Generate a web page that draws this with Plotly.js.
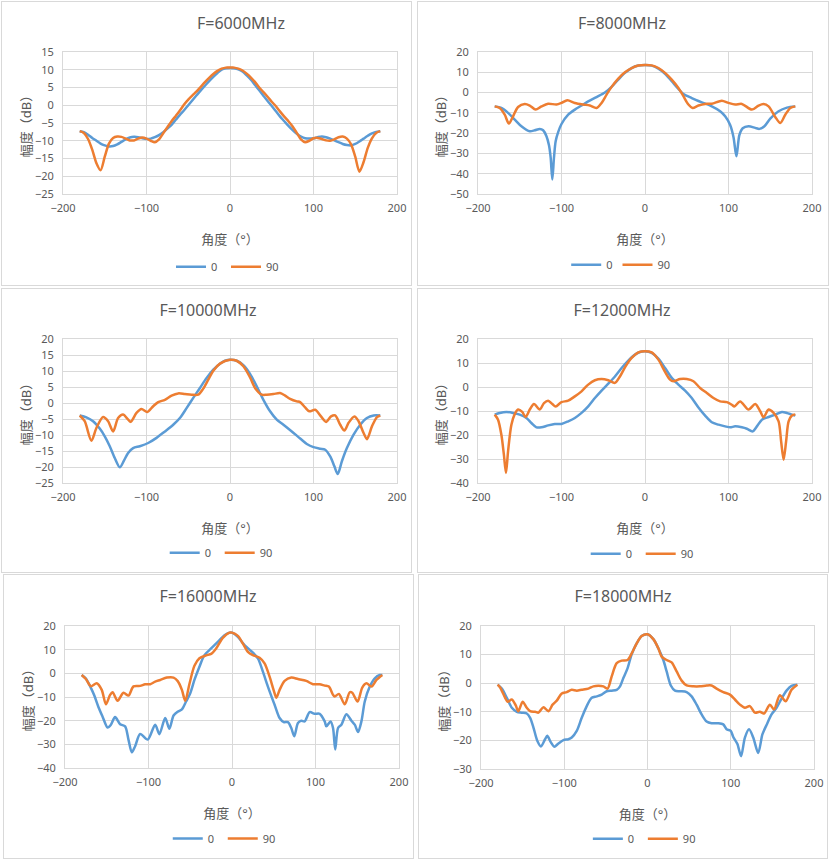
<!DOCTYPE html>
<html>
<head>
<meta charset="utf-8">
<script src="https://cdn.plot.ly/plotly-3.0.1.min.js"></script>
<style>
html,body{margin:0;padding:0;background:#ffffff;}
body{width:831px;height:860px;position:relative;overflow:hidden;}
.chart{position:absolute;}
.frame{position:absolute;border:1px solid #d9d9d9;box-sizing:border-box;pointer-events:none;z-index:5;}
</style>
</head>
<body>
<script>
// ---------- data (angle in degrees, amplitude in dB) ----------
const seriesNames = ['0', '90'];

// F=6000MHz
const ang6_0 = [-180,-175,-170,-165,-160,-155,-150,-145,-140,-135,-130,-125,-120,-115,-110,-105,-100,-95,-90,-85,-80,-75,-70,-65,-60,-55,-50,-45,-40,-35,-30,-25,-20,-15,-10,-5,0,5,10,15,20,25,30,35,40,45,50,55,60,65,70,75,80,85,90,95,100,105,110,115,120,125,130,135,140,145,150,155,160,165,170,175,180];
const db6_0 = [-7.3,-7.6,-8.3,-9.2,-10.0,-10.8,-11.3,-11.6,-11.5,-11.0,-10.3,-9.6,-9.1,-8.9,-9.0,-9.3,-9.5,-9.4,-9.0,-8.4,-7.6,-6.6,-5.5,-4.1,-2.7,-1.4,0.0,1.4,2.8,4.2,5.5,6.8,8.0,9.1,10.0,10.4,10.5,10.4,10.1,9.5,8.4,7.2,5.7,4.2,2.7,1.2,-0.2,-1.7,-3.2,-4.5,-5.8,-7.0,-8.0,-8.8,-9.3,-9.4,-9.3,-9.0,-8.8,-9.0,-9.4,-9.9,-10.4,-10.9,-11.2,-11.3,-10.9,-10.2,-9.4,-8.6,-7.9,-7.5,-7.3];
const ang6_90 = ang6_0;
const db6_90 = [-7.3,-7.8,-9.5,-12.5,-16.3,-18.3,-14.5,-10.8,-9.2,-8.8,-8.9,-9.4,-9.9,-9.9,-9.4,-9.1,-9.4,-10.0,-10.4,-9.6,-7.9,-6.2,-4.5,-3.0,-1.5,0.2,1.6,2.8,3.9,5.2,6.5,7.7,8.8,9.7,10.3,10.6,10.6,10.6,10.3,9.8,8.9,7.8,6.5,5.0,3.7,2.4,1.0,-0.3,-1.8,-3.2,-4.5,-6.0,-7.8,-9.6,-10.4,-10.0,-9.3,-9.2,-9.5,-9.9,-10.0,-9.6,-9.0,-8.8,-9.4,-11.0,-14.5,-18.7,-16.0,-12.0,-9.3,-7.8,-7.3];

// F=8000MHz
const ang8_0 = [-180,-172,-164,-156,-148,-138,-132,-126,-122,-118,-115,-113,-111,-109,-107,-104,-100,-92,-84,-76,-68,-58,-48,-40,-32,-24,-16,-8,0,8,16,24,32,40,46,56,68,80,90,96,102,106,109.5,113,117,124,132,137,143,150,160,170,180];
const db8_0 = [-6.8,-7.6,-10.0,-13.3,-16.6,-19.1,-18.6,-17.9,-18.6,-21.5,-26.0,-32.0,-42.9,-32.0,-24.0,-19.5,-15.5,-10.9,-8.4,-6.4,-4.3,-2.2,0.0,2.8,6.4,9.7,12.1,13.3,13.6,13.3,11.8,9.3,5.6,1.8,-0.7,-2.7,-4.8,-6.8,-9.2,-11.7,-16.0,-22.0,-31.4,-21.0,-17.6,-16.6,-17.4,-17.9,-16.6,-12.8,-9.2,-7.4,-6.8];
const ang8_90 = [-180,-174,-168,-163,-158,-152,-144,-138,-131,-124,-116,-106,-100,-93,-84,-74,-66,-58,-52,-46,-40,-32,-24,-16,-8,0,8,16,24,32,40,46,52,57,64,72,80,92,100,108,116,128,136,142,148,156,162,168,174,180];
const db8_90 = [-6.8,-7.6,-10.9,-15.3,-11.7,-7.1,-5.6,-6.4,-8.4,-6.8,-5.5,-5.9,-5.1,-3.8,-5.1,-5.9,-6.4,-7.6,-5.1,-1.0,2.8,6.9,10.0,12.1,13.3,13.6,13.4,12.1,9.7,6.4,2.3,-1.8,-5.9,-7.6,-6.4,-5.6,-5.5,-4.0,-5.1,-5.9,-5.6,-8.4,-6.4,-5.6,-6.8,-12.0,-15.0,-10.9,-7.6,-6.8];

// F=10000MHz
const ang10_0 = [-180,-172,-164,-156,-150,-144,-138,-132,-127,-122,-116,-108,-98,-88,-78,-68,-60,-52,-44,-36,-28,-20,-12,-6,0,8,16,24,32,40,48,56,64,74,84,92,100,108,114,120,125,129,134,140,148,156,164,172,180];
const db10_0 = [-3.9,-4.5,-5.7,-8.0,-10.4,-13.5,-17.2,-20.1,-18.0,-15.6,-14.1,-13.5,-12.5,-10.9,-8.9,-6.8,-4.7,-1.6,1.6,4.7,7.8,10.4,12.3,13.2,13.5,13.2,11.8,9.1,5.2,1.0,-2.6,-5.2,-6.8,-8.9,-11.1,-12.8,-13.8,-14.3,-14.6,-16.7,-19.8,-22.2,-18.2,-14.1,-9.9,-6.8,-4.7,-3.9,-3.9];
const ang10_90 = [-180,-174,-166,-160,-152,-146,-140,-134,-128,-123,-119,-112,-106,-99,-92,-86,-78,-70,-62,-54,-46,-38,-32,-26,-20,-12,0,8,16,24,30,38,44,52,60,66,72,80,84,90,95,102,109,115,121,126,132,137,142,149,154,160,164,170,176,180];
const db10_90 = [-3.9,-5.7,-11.8,-7.8,-4.4,-5.7,-8.9,-4.7,-3.6,-4.9,-5.9,-3.1,-1.9,-2.8,-1.0,0.3,1.0,2.3,3.0,2.8,2.6,2.6,4.5,7.3,10.1,12.3,13.5,13.2,11.5,8.0,4.7,2.6,2.6,2.8,3.1,2.3,1.3,0.5,0.3,-1.4,-2.6,-2.1,-4.2,-5.9,-4.2,-3.9,-6.8,-8.6,-6.2,-4.2,-5.7,-9.4,-11.3,-7.3,-4.4,-3.9];

// F=12000MHz
const ang12_0 = [-180,-174,-166,-158,-150,-142,-136,-130,-124,-116,-108,-100,-92,-84,-76,-68,-60,-52,-44,-36,-28,-20,-12,-6,0,8,16,24,32,40,48,56,64,72,80,88,96,102,108,116,122,129,134,140,148,156,164,170,176,180];
const db12_0 = [-11.5,-10.8,-10.4,-10.8,-11.5,-12.9,-15.0,-16.8,-16.8,-16.0,-15.4,-15.4,-14.3,-12.9,-10.8,-8.1,-4.6,-1.5,1.4,4.4,7.9,11.0,13.5,14.6,14.9,14.2,11.8,7.9,3.8,1.0,-1.5,-4.6,-8.5,-11.9,-14.7,-15.7,-16.4,-16.8,-16.4,-16.8,-17.4,-18.5,-16.4,-13.6,-12.5,-11.5,-10.4,-10.8,-11.5,-11.9];
const ang12_90 = [-180,-176,-172,-169,-166.5,-164,-160,-156,-152,-147,-143,-138,-133,-126,-121,-116,-111,-107,-100,-92,-84,-76,-68,-60,-52,-44,-36,-30,-24,-16,-8,0,8,16,24,30,34,42,50,58,66,74,82,90,98,104,107,114,124,132,138,142,148,154,160,163,166,169,172,176,180];
const db12_90 = [-11.5,-13.6,-19.9,-28.2,-35.8,-26.8,-15.7,-11.3,-9.4,-10.4,-12.5,-9.4,-7.1,-9.4,-6.7,-5.7,-7.1,-8.1,-6.3,-5.7,-3.9,-1.8,1.0,2.8,3.3,2.8,1.7,4.4,8.2,12.1,14.4,14.9,14.4,11.4,6.3,3.1,2.4,3.3,3.3,2.4,-0.4,-2.5,-4.6,-6.0,-6.3,-7.4,-8.1,-6.0,-9.4,-7.1,-10.1,-12.6,-9.4,-10.8,-14.3,-22.6,-30.3,-22.6,-14.3,-11.9,-11.5];

// F=16000MHz
const ang16_0 = [-180,-175,-170,-165,-160,-155,-149,-145,-140,-134,-128,-124,-120,-116,-110,-101,-92,-87,-80,-75,-70,-65,-60,-55,-50,-45,-39,-33,-25,-17,-9,-3,0,7,15,23,31,37,43,51,57,62,67,71,74.5,79,83,87,93,99,105,111,113,118,121,123.6,127,131,137,143,147,151,155,159,165,171,177,180];
const db16_0 = [-0.7,-2.2,-5.4,-9.3,-14.2,-18.3,-22.9,-21.7,-18.5,-21.5,-22.4,-28.0,-33.4,-30.8,-25.6,-28.0,-21.7,-25.7,-18.9,-23.4,-17.8,-16.2,-15.2,-11.9,-8.4,-2.8,2.8,7.7,10.5,13.3,16.1,17.2,17.2,15.4,11.9,9.4,6.3,0.7,-5.6,-13.3,-18.9,-20.6,-20.6,-23.1,-26.6,-21.0,-20.0,-20.3,-16.4,-17.1,-17.1,-20.3,-22.4,-20.3,-23.1,-32.2,-23.1,-21.7,-17.3,-20.0,-21.7,-24.8,-20.3,-11.9,-5.6,-2.1,-0.7,-0.7];
const ang16_90 = [-180,-175,-169,-162,-156,-151,-146,-143,-137,-130,-124,-118,-110,-104,-98,-92,-86,-78,-70,-65,-60,-56,-51,-45,-39,-31,-25,-19,-11,-3,0,7,13,19,25,33,39,45,50.4,53.2,57,63,71,79,89,97,105,111,116,121,123,128,135,141,144,150.4,156,161,167,173,180];
const db16_90 = [-0.7,-2.4,-5.5,-4.2,-7.0,-13.1,-9.1,-8.0,-11.6,-8.2,-9.4,-5.5,-5.3,-4.6,-4.6,-3.5,-2.8,-1.8,-1.8,-3.3,-7.0,-11.6,-4.5,3.2,6.4,7.6,8.2,10.5,15.0,17.2,17.2,15.8,12.6,9.1,7.7,6.6,4.2,-1.4,-7.7,-10.3,-7.0,-3.2,-1.8,-2.4,-3.2,-4.6,-4.6,-5.2,-5.6,-9.1,-9.8,-8.7,-13.1,-8.0,-8.2,-11.9,-6.0,-4.2,-5.6,-2.8,-0.7];

// F=18000MHz
const ang18_0 = [-180,-175,-169,-163,-157,-151,-145,-141,-137,-132.4,-128,-123,-120.4,-116,-112,-107,-101,-95,-91,-85,-79,-73,-67,-61,-55,-49,-43,-37,-33,-29,-24,-19,-13,-7,0,7,13,19,23,28,33,39,47,53,59,65,71,77,85,91,95,100,103,108,112.4,117,122,127,133,138,143,149,155,161,167,173,180];
const db18_0 = [-0.5,-1.9,-5.1,-8.6,-10.0,-10.3,-10.6,-12.1,-15.5,-20.1,-22.1,-19.6,-18.4,-20.7,-22.2,-21.1,-19.9,-19.6,-19.0,-16.7,-12.1,-8.0,-5.1,-4.6,-4.0,-2.8,-2.6,-2.3,-1.1,1.8,5.2,10.1,13.9,16.5,17.1,15.4,12.2,8.1,4.1,-0.8,-2.6,-2.8,-3.1,-4.6,-7.5,-10.9,-13.4,-14.0,-14.0,-14.4,-16.1,-16.7,-18.8,-21.3,-25.5,-19.0,-16.1,-19.0,-24.4,-17.9,-14.6,-10.9,-8.6,-5.4,-2.6,-0.9,-0.5];
const ang18_90 = [-180,-177,-171,-168,-163,-158.4,-155.2,-150,-145,-141,-135,-131,-125,-119,-114,-109,-103,-97,-91,-85,-79,-71,-65,-59,-53,-48,-43,-37,-31,-24,-19,-13,-7,0,7,13,17,23,29,35,41,47,55,63,71,77,83,91,99,105,111,117,123,129,135,140,147,152,159,166,173,180];
const db18_90 = [-0.5,-1.5,-5.1,-6.5,-5.7,-7.7,-9.8,-6.5,-8.6,-9.8,-10.0,-10.3,-8.4,-9.8,-7.5,-6.1,-3.6,-3.1,-2.3,-2.6,-2.3,-1.9,-1.1,-0.9,-1.1,-1.9,2.4,7.0,7.9,8.1,10.4,13.9,16.5,17.1,15.4,12.2,9.3,8.1,7.3,4.1,0.9,-0.8,-1.1,-1.1,-0.8,-0.8,-1.9,-3.1,-4.0,-5.7,-7.5,-8.6,-8.0,-10.3,-10.0,-10.6,-7.5,-9.2,-4.2,-6.3,-2.3,-0.5];

// panel titles and axis text
const titles = ['F=6000MHz','F=8000MHz','F=10000MHz','F=12000MHz','F=16000MHz','F=18000MHz'];
const xTitle = '角度（°）';
const yTitle = '幅度（dB）';
const yRanges = [[-25,15],[-50,20],[-25,20],[-40,20],[-40,20],[-30,20]];
const yDticks = [5,10,5,10,10,10];
const xRange = [-200,200];
const xDtick = 100;

// ---------- layout geometry (page pixels) ----------
// box: [left, top, width, height]; plot: [x0, y0, x1, y1]; tx: title centre x; lx, ly: legend centre; ew: legend entry width
const geo = [
  {box:[1,1,411,285],   plot:[63.3,52.3,396.7,194.3],  tx:241, lx:226, ly:267, ew:10},
  {box:[417,1,412,285], plot:[478.3,52.3,812.3,194.3], tx:622, lx:621, ly:265, ew:0},
  {box:[1,288,411,285], plot:[63.3,339.3,397.3,483.3], tx:208, lx:220, ly:553, ew:10},
  {box:[417,288,412,285],plot:[478.3,339.3,812.3,483.3],tx:622, lx:641, ly:554, ew:10},
  {box:[3,574,411,285], plot:[65,625.7,399.5,768.3],   tx:208, lx:223, ly:839, ew:10},
  {box:[418,574,410,285],plot:[481,625.7,814.3,769],   tx:623, lx:643, ly:839, ew:10}
];

const seriesData = [
  [ang6_0, db6_0, ang6_90, db6_90],
  [ang8_0, db8_0, ang8_90, db8_90],
  [ang10_0, db10_0, ang10_90, db10_90],
  [ang12_0, db12_0, ang12_90, db12_90],
  [ang16_0, db16_0, ang16_90, db16_90],
  [ang18_0, db18_0, ang18_90, db18_90]
];

const COLORS = ['#5B9BD5', '#ED7D31'];
const FONT = '"Noto Sans", "Noto Sans CJK SC", sans-serif';
const TXT = '#595959';
const GRID = '#d9d9d9';

geo.forEach((g, i) => {
  const [left, top, W, H] = g.box;
  const [px0, py0, px1, py1] = g.plot;
  const div = document.createElement('div');
  div.className = 'chart';
  div.style.left = left + 'px';
  div.style.top = top + 'px';
  div.style.width = W + 'px';
  div.style.height = H + 'px';
  document.body.appendChild(div);
  const frame = document.createElement('div');
  frame.className = 'frame';
  frame.style.left = left + 'px';
  frame.style.top = top + 'px';
  frame.style.width = W + 'px';
  frame.style.height = H + 'px';
  document.body.appendChild(frame);

  const ml = px0 - left, mr = left + W - px1, mt = py0 - top, mb = top + H - py1;
  const pw = px1 - px0, ph = py1 - py0;
  const d = seriesData[i];
  const traces = [0, 1].map(k => ({
    type: 'scatter', mode: 'lines',
    x: d[2 * k], y: d[2 * k + 1],
    name: seriesNames[k],
    line: {color: COLORS[k], width: 2.5, shape: 'spline', smoothing: 0.8},
    hoverinfo: 'skip'
  }));
  const axisCommon = {
    showgrid: true, gridcolor: GRID, gridwidth: 1,
    zeroline: false, showline: true, linecolor: GRID, linewidth: 1, mirror: true,
    ticks: '', tickfont: {family: FONT, size: 11, color: TXT},
    fixedrange: true, automargin: false
  };
  const legend = {
    orientation: 'h',
    x: (g.lx - px0) / pw, xanchor: 'center',
    y: (py1 - g.ly) / ph, yanchor: 'middle',
    font: {family: FONT, size: 11, color: TXT},
    bgcolor: 'rgba(0,0,0,0)', borderwidth: 0
  };
  if (g.ew) { legend.entrywidth = g.ew; legend.entrywidthmode = 'pixels'; }
  const layout = {
    width: W, height: H,
    margin: {l: ml, r: mr, t: mt, b: mb, pad: 0, autoexpand: false},
    paper_bgcolor: '#ffffff', plot_bgcolor: '#ffffff',
    font: {family: FONT, color: TXT, size: 11},
    title: {
      text: titles[i],
      x: (g.tx - left) / W, xanchor: 'center', xref: 'container',
      y: 1 - 22.5 / H, yanchor: 'middle', yref: 'container',
      font: {family: FONT, size: 16, color: TXT}
    },
    showlegend: true,
    legend: legend,
    xaxis: Object.assign({}, axisCommon, {
      range: xRange, dtick: xDtick, tick0: 0,
      ticklabelstandoff: 4,
      title: {text: xTitle, font: {family: FONT, size: 13, color: TXT}, standoff: 20}
    }),
    yaxis: Object.assign({}, axisCommon, {
      range: yRanges[i], dtick: yDticks[i], tick0: 0,
      ticklabelstandoff: 6,
      title: {text: yTitle, font: {family: FONT, size: 13, color: TXT}, standoff: 0}
    })
  };
  Plotly.newPlot(div, traces, layout, {staticPlot: true, displayModeBar: false});
});
</script>
</body>
</html>
